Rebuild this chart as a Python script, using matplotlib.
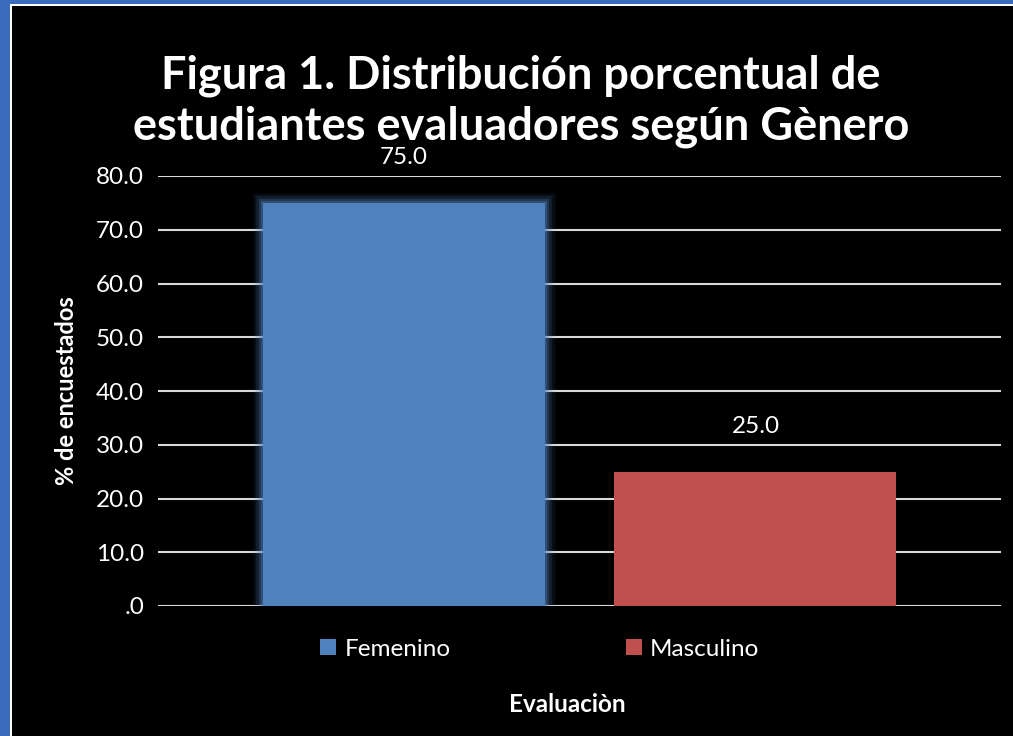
import matplotlib.pyplot as plt
import matplotlib.patches as patches
import numpy as np

categorias = ['Femenino', 'Masculino']
porcentajes = [75.0, 25.0]
colores = ['#4f81bd', '#c0504d']
yticks = [0, 10, 20, 30, 40, 50, 60, 70, 80]
ytick_labels = ['.0', '10.0', '20.0', '30.0', '40.0', '50.0', '60.0', '70.0', '80.0']

plt.rcParams['font.family'] = ['Lato', 'DejaVu Sans']

fig = plt.figure(figsize=(10.13, 7.36), dpi=100)
fig.patch.set_facecolor('black')

# blue frame on left / top with thin white line
fig.patches.append(patches.Rectangle((0, 0), 10 / 1013, 1, transform=fig.transFigure,
                                     facecolor='#3a6cbd', edgecolor='none'))
fig.patches.append(patches.Rectangle((0, 1 - 4 / 736), 1, 4 / 736, transform=fig.transFigure,
                                     facecolor='#3a6cbd', edgecolor='none'))
fig.patches.append(patches.Rectangle((10 / 1013, 0), 2 / 1013, 1 - 4 / 736, transform=fig.transFigure,
                                     facecolor='white', edgecolor='none'))
fig.patches.append(patches.Rectangle((10 / 1013, 1 - 6 / 736), 1, 2 / 736, transform=fig.transFigure,
                                     facecolor='white', edgecolor='none'))

ax = fig.add_axes([158 / 1013, 130 / 736, 843 / 1013, 430 / 736])
ax.set_facecolor('black')

w = 1.0
xpos = [-0.624, 0.624]

handles = []
for i, (x, v, c) in enumerate(zip(xpos, porcentajes, colores)):
    if i == 0:
        # soft glow around the first bar
        for lw, a in [(14, 0.10), (10, 0.15), (6, 0.25), (3, 0.35)]:
            ax.bar(x, v, width=w, color='none', edgecolor='#4f81bd', linewidth=lw,
                   alpha=a, zorder=3)
    b = ax.bar(x, v, width=w, color=c, label=categorias[i], zorder=4)
    handles.append(b)
    ax.text(x, v + 8.4, f'{v:.1f}', ha='center', va='center', color='white', fontsize=17.5)

ax.set_xlim(-1.4947, 1.4947)
ax.set_ylim(0, 80)
ax.set_yticks(yticks)
ax.set_yticklabels(ytick_labels)
ax.set_xticks([])
ax.yaxis.grid(True, color='#d9d9d9', linewidth=1.5, zorder=0)
ax.set_axisbelow(True)
ax.tick_params(axis='y', length=0, pad=10, labelcolor='white', labelsize=17.5)
for s in ax.spines.values():
    s.set_visible(False)
ax.axhline(0, color='#d9d9d9', linewidth=1.8, zorder=2)

ax.set_ylabel('% de encuestados', color='white', fontsize=17, fontweight='bold')
ax.yaxis.set_label_coords(-0.095, 0.5)

fig.text(567 / 1013, 1 - 704 / 736, 'Evaluaciòn', ha='center', va='center', color='white',
         fontsize=17.5, fontweight='bold')

fig.text(521 / 1013, 1 - 101 / 736, 'Figura 1. Distribución porcentual de\nestudiantes evaluadores según Gènero',
         ha='center', va='center', color='white', fontsize=32.5, fontweight='bold', linespacing=1.25)

fig.legend(handles=handles, labels=categorias, loc='center',
           bbox_to_anchor=(540 / 1013, 1 - 649 / 736), ncol=2, frameon=False,
           fontsize=17.5, labelcolor='white', handlelength=0.65, handleheight=0.65,
           handletextpad=0.35, columnspacing=7.2)

plt.savefig('out.png', dpi=100, facecolor=fig.get_facecolor())
plt.close()
